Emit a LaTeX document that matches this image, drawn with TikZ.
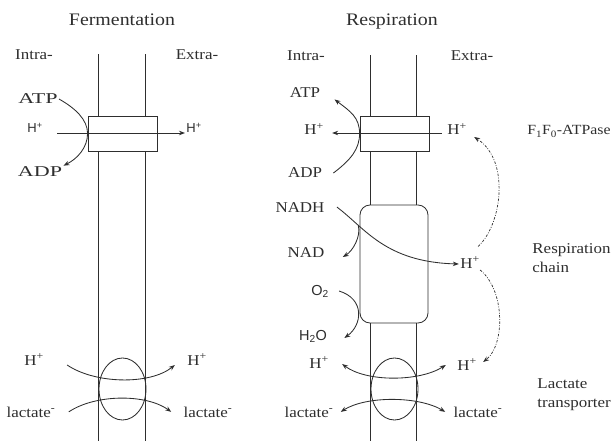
\documentclass[tikz,border=0pt]{standalone}
\usepackage{fontspec}
\setmainfont{Liberation Serif}[FakeStretch=1.13]
\newfontfamily\widefont{Liberation Serif}[FakeStretch=1.47]
\newfontfamily\plainsans{Liberation Sans}
\usepackage{tikz}
\usetikzlibrary{arrows.meta,calc,positioning,shapes.geometric}
\definecolor{ink}{HTML}{2E2E2E}

\begin{document}
\begin{tikzpicture}[x=1pt,y=-1pt,color=ink,line width=0.85pt,
  lbl/.style={font=\fontsize{15}{19}\selectfont, inner sep=1pt, anchor=base},
  widelbl/.style={lbl, font=\widefont\fontsize{15}{19}\selectfont},
  sanslbl/.style={font=\plainsans\fontsize{13}{16}\selectfont, inner sep=1pt, anchor=base},
  gaslbl/.style={sanslbl, font=\plainsans\fontsize{14.5}{17}\selectfont},
  titlelbl/.style={font=\fontsize{17.6}{21}\selectfont, inner sep=1pt, anchor=base},
  sidelbl/.style={font=\fontsize{15}{19.5}\selectfont, inner sep=1pt, align=left, anchor=north west},
  arr/.style={-{Stealth[length=6pt,width=4.5pt]}},
  twoarr/.style={{Stealth[length=6pt,width=4.5pt]}-{Stealth[length=6pt,width=4.5pt]}},
  chainarr/.style={arr, line width=0.7pt, dash pattern=on 2.5pt off 1.5pt on 0.8pt off 1.5pt}]
  \useasboundingbox (0,0) rectangle (616,441);

  % titles
  \node[titlelbl] (tferm) at (122,26) {Fermentation};
  \node[titlelbl] (tresp) at (392,26) {Respiration};

  % ---------------- fermentation ----------------
  \node[lbl] (intraF) at (34,60) {Intra-};
  \node[lbl] (extraF) at (197,60) {Extra-};

  % ATPase and lactate transporter
  \node[draw, minimum width=69pt, minimum height=35pt, inner sep=0] (fatp) at (122.5,133.5) {};
  \node[draw, ellipse, minimum width=47pt, minimum height=62pt, inner sep=0] (ftrans) at (122.5,389) {};

  % membrane
  \foreach \dx in {11,57.5} {
    \draw ([xshift=\dx pt]fatp.north west) -- ++(0,-62);
    \draw ([xshift=\dx pt]fatp.south west) -- ++(0,290);
  }

  \node[widelbl] (atpF) at (38,104) {ATP};
  \node[widelbl] (adpF) at (40,177) {ADP};
  \node[sanslbl] (hinF) at (35,133) {H\textsuperscript{+}};
  \node[sanslbl] (houtF) at (194,133) {H\textsuperscript{+}};
  \node[lbl] (hlF) at (34,365) {H\textsuperscript{+}};
  \node[lbl] (hrF) at (197,365) {H\textsuperscript{+}};
  \node[lbl] (laF) at (31,417) {lactate\textsuperscript{-}};
  \node[lbl] (lbF) at (208,417) {lactate\textsuperscript{-}};

  \draw[arr] (atpF.east) .. controls +(16,9) and +(0,-14) .. (fatp.west)
    .. controls +(0,14) and +(14,-7) .. (adpF.north east);
  \draw[arr] ([xshift=13pt]hinF.base east) -- (houtF.base west);
  \draw[arr] ([xshift=22pt]hlF.base east) .. controls +(28,19) and +(-25,20) .. ([xshift=-11pt]hrF.base west);
  \draw[arr] ([xshift=12pt]laF.east) .. controls +(27,-18) and +(-25,-18) .. ([xshift=-11pt]lbF.west);

  % ---------------- respiration ----------------
  \node[lbl] (intraR) at (306,61) {Intra-};
  \node[lbl] (extraR) at (472,61) {Extra-};

  % ATPase, respiration chain and lactate transporter
  \node[draw, minimum width=69pt, minimum height=35pt, inner sep=0] (ratp) at (394.5,133.5) {};
  \node[draw, rounded corners=10pt, minimum width=68pt, minimum height=118pt, inner sep=0] (rchain) at (394,264) {};
  \node[draw, ellipse, minimum width=47pt, minimum height=62pt, inner sep=0] (rtrans) at (394.5,389) {};

  % membrane
  \foreach \dx in {11,57} {
    \draw ([xshift=\dx pt]ratp.north west) -- ++(0,-61);
    \draw ([xshift=\dx pt]ratp.south west) -- ([xshift=\dx pt]rchain.north west);
    \draw ([xshift=\dx pt]rchain.south west) -- ++(0,118);
  }

  \node[lbl] (atpR) at (305,98) {ATP};
  \node[lbl] (adpR) at (305,178) {ADP};
  \node[lbl] (hinR) at (314,135) {H\textsuperscript{+}};
  \node[lbl] (houtR) at (457,135) {H\textsuperscript{+}};
  \node[lbl] (nadh) at (300,212) {NADH};
  \node[lbl] (nad) at (306,257) {NAD};
  \node[lbl] (hmidR) at (470,268) {H\textsuperscript{+}};
  \node[gaslbl] (otwo) at (320,295) {O\textsubscript{2}};
  \node[gaslbl] (water) at (313,340) {H\textsubscript{2}O};
  \node[lbl] (hlR) at (319,368) {H\textsuperscript{+}};
  \node[lbl] (hrR) at (467,370) {H\textsuperscript{+}};
  \node[lbl] (laR) at (309,417) {lactate\textsuperscript{-}};
  \node[lbl] (lbR) at (478,417) {lactate\textsuperscript{-}};

  % side labels
  \node[lbl, anchor=base east, font=\fontsize{14}{18}\selectfont] (atpase) at (612,135) {F\textsubscript{1}F\textsubscript{0}-ATPase};
  \node[sidelbl] (chainlbl) at (531,242) {Respiration\\chain};
  \node[sidelbl, font=\fontsize{15}{19}\selectfont] (translbl) at (536,377) {Lactate\\transporter};

  \draw[arr] ([xshift=10pt]adpR.east) .. controls +(17,-13) and +(0,16) .. (ratp.west)
    .. controls +(0,-16) and +(16,12) .. ([xshift=13pt]atpR.south east);
  \draw[arr] ([xshift=-4pt,yshift=2pt]houtR.base west) -- ([xshift=7pt,yshift=2pt]hinR.base east);

  \draw[arr] ([xshift=11pt]nadh.east) .. controls (365,228) and (385,262) ..
    coordinate[pos=0.26] (nsplit) ([yshift=4pt]hmidR.base west);
  \draw[arr] (nsplit) .. controls +(3,11) and +(10,-6) .. ([xshift=17pt]nad.base east);
  \draw[arr] ([xshift=9pt]otwo.east) .. controls +(26,8) and +(18,-13) .. ([xshift=16pt,yshift=2pt]water.base east);

  \draw[twoarr] ([xshift=12pt,yshift=4pt]hlR.base east) .. controls +(24,18) and +(-27,17) .. ([xshift=-10pt,yshift=5pt]hrR.base west);
  \draw[twoarr] ([xshift=6pt]laR.east) .. controls +(25,-16) and +(-27,-16) .. ([xshift=-7pt]lbR.west);

  % proton cycle
  \draw[chainarr] ([xshift=-3pt,yshift=9pt]hmidR.north east) .. controls +(24,-22) and +(36,23) .. ([xshift=6pt,yshift=-2pt]houtR.base east);
  \draw[chainarr] ([xshift=-1pt,yshift=-2pt]hmidR.base east) .. controls +(25,20) and +(22,-17) .. ([xshift=5pt,yshift=8pt]hrR.base east);
\end{tikzpicture}
\end{document}
